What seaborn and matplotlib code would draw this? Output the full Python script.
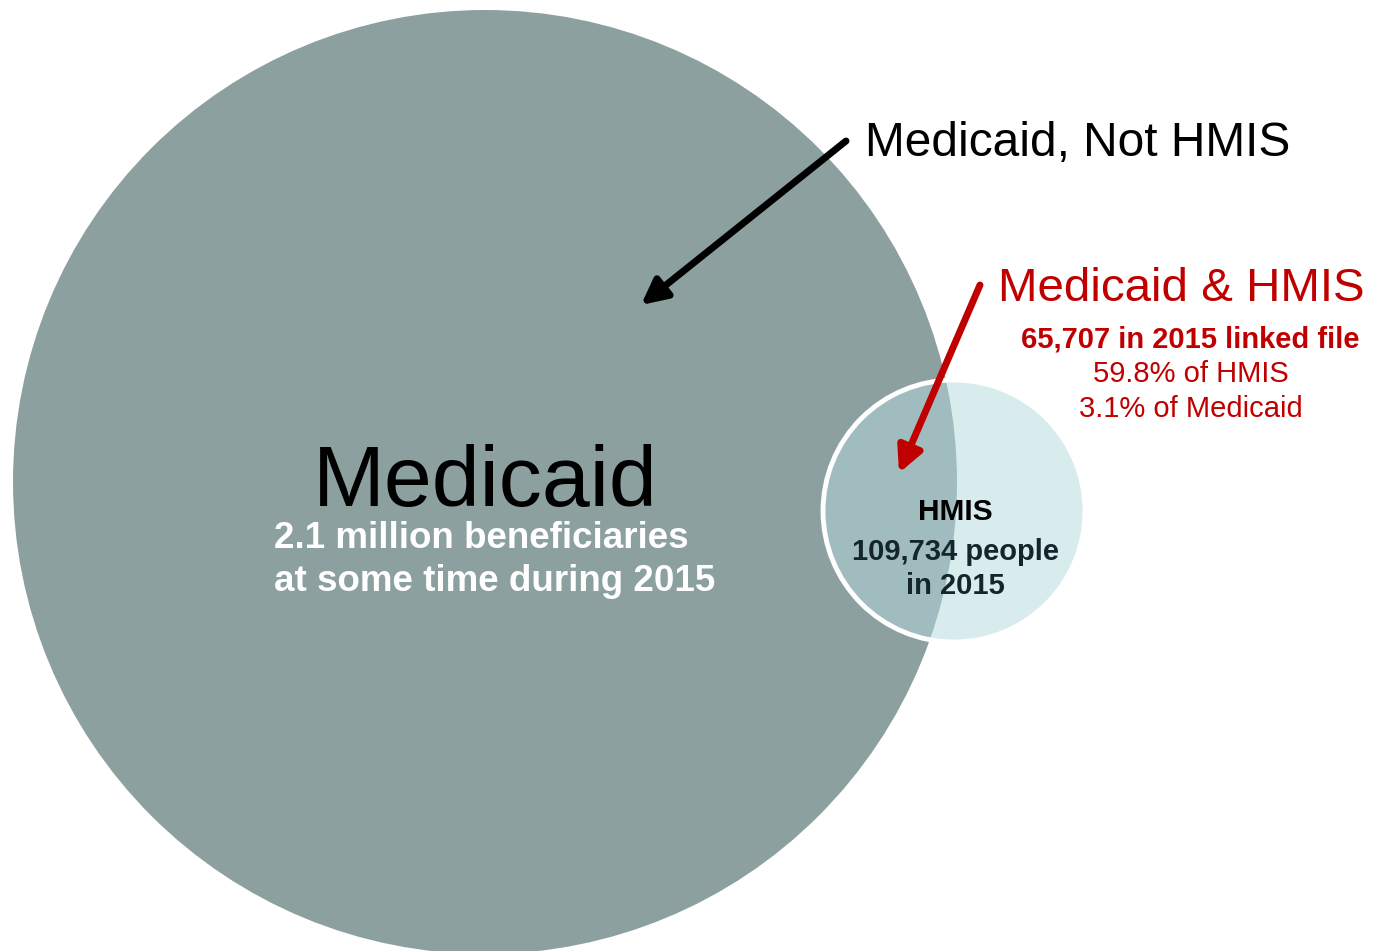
import matplotlib
matplotlib.use("Agg")
import matplotlib.pyplot as plt
import seaborn as sns
from matplotlib.patches import Circle

# data
sets = ["Medicaid", "HMIS"]
set_counts = ["2.1 million beneficiaries\nat some time during 2015", "109,734 people\nin 2015"]
overlap_title = "Medicaid & HMIS"
overlap_count = "65,707 in 2015 linked file"
overlap_shares = ["59.8% of HMIS", "3.1% of Medicaid"]
only_label = "Medicaid, Not HMIS"

# layout (pixel space)
big_center, big_r = (485, 482), 472
small_center, small_r = (954, 511), 131

sns.set_theme(style="white")
plt.rcParams["font.family"] = ["Liberation Sans", "DejaVu Sans"]

fig = plt.figure(figsize=(13.85, 9.51), dpi=100)
ax = fig.add_axes([0, 0, 1, 1])
ax.set_xlim(0, 1385)
ax.set_ylim(951, 0)
ax.set_aspect("equal")
ax.axis("off")

ax.add_patch(Circle(big_center, big_r, facecolor="#8da0a0", edgecolor="none", zorder=1))
ax.add_patch(Circle(small_center, small_r, facecolor="#b3d9dd", alpha=0.5,
                    edgecolor="none", zorder=2))
ax.add_patch(Circle(small_center, small_r, facecolor="none", edgecolor="white",
                    lw=3.5, zorder=3))

# big circle labels
ax.text(485, 484, sets[0], fontsize=62, color="black", ha="center", va="center", zorder=5)
ax.text(274, 560, set_counts[0], fontsize=26.5, fontweight="bold", color="white",
        ha="left", va="center", linespacing=1.32, zorder=5)

# small circle labels
ax.text(955, 512, sets[1], fontsize=21.5, fontweight="bold", color="black",
        ha="center", va="center", zorder=5)
ax.text(955, 569, set_counts[1], fontsize=21, fontweight="bold", color="#14252b",
        ha="center", va="center", linespacing=1.25, zorder=5)

# outside labels
ax.text(865, 143, only_label, fontsize=34.5, color="black", ha="left", va="center")
red = "#c00000"
ax.text(1181, 289, overlap_title, fontsize=34.2, color=red, ha="center", va="center")
ax.text(1190, 339, overlap_count, fontsize=21, fontweight="bold", color=red,
        ha="center", va="center")
for i, s in enumerate(overlap_shares):
    ax.text(1191, 374 + 35 * i, s, fontsize=21, color=red, ha="center", va="center")

# arrows
ax.annotate("", xy=(641, 305), xytext=(846, 141),
            arrowprops=dict(arrowstyle="-|>", lw=5, color="black",
                            mutation_scale=38, shrinkA=0, shrinkB=0), zorder=6)
ax.annotate("", xy=(899, 473), xytext=(980, 285),
            arrowprops=dict(arrowstyle="-|>", lw=5, color=red,
                            mutation_scale=38, shrinkA=0, shrinkB=0), zorder=6)

fig.savefig("out.png", dpi=100, facecolor="white")
